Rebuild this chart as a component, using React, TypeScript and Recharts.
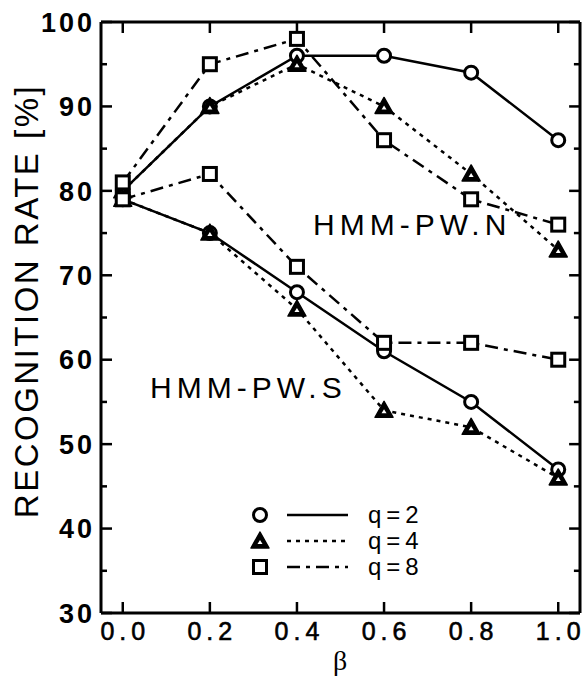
import {
  Customized,
  Line,
  LineChart,
  ReferenceLine,
  XAxis,
  YAxis,
} from "recharts";

// beta values on the x axis
const beta = [0, 0.2, 0.4, 0.6, 0.8, 1.0];

// HMM-PW.N curves
const pwN_q2 = [80, 90, 96, 96, 94, 86];
const pwN_q4 = [80, 90, 95, 90, 82, 73];
const pwN_q8 = [81, 95, 98, 86, 79, 76];

// HMM-PW.S curves
const pwS_q2 = [79, 75, 68, 61, 55, 47];
const pwS_q4 = [79, 75, 66, 54, 52, 46];
const pwS_q8 = [79, 82, 71, 62, 62, 60];

const xTicks = [0, 0.2, 0.4, 0.6, 0.8, 1.0];
const yTicks = [30, 35, 40, 45, 50, 55, 60, 65, 70, 75, 80, 85, 90, 95, 100];
const legendLabels = ["q=2", "q=4", "q=8"];

const X_DOMAIN: [number, number] = [-0.05, 1.05];
const Y_DOMAIN: [number, number] = [30, 100];

const data = beta.map((b, i) => ({
  beta: b,
  nQ2: pwN_q2[i],
  nQ4: pwN_q4[i],
  nQ8: pwN_q8[i],
  sQ2: pwS_q2[i],
  sQ4: pwS_q4[i],
  sQ8: pwS_q8[i],
}));

const FONT = "'Liberation Sans', Arial, Helvetica, sans-serif";
const DOTTED = "4 5";
const DASHDOT = "13 6 4 6";

function CircleMark(cx: number, cy: number, key?: any) {
  return (
    <circle key={key} cx={cx} cy={cy} r={6.5} fill="#fff" stroke="#000" strokeWidth={3} />
  );
}

function TriangleMark(cx: number, cy: number, key?: any) {
  return (
    <g key={key}>
      <polygon
        points={`${cx},${cy - 9} ${cx - 9},${cy + 7} ${cx + 9},${cy + 7}`}
        fill="#000"
        stroke="#000"
        strokeWidth={1.5}
        strokeLinejoin="round"
      />
      <polygon
        points={`${cx},${cy - 1} ${cx - 2.5},${cy + 3} ${cx + 2.5},${cy + 3}`}
        fill="#fff"
      />
    </g>
  );
}

function SquareMark(cx: number, cy: number, key?: any) {
  return (
    <rect key={key} x={cx - 6.5} y={cy - 6.5} width={13} height={13} fill="#fff" stroke="#000" strokeWidth={3} />
  );
}

const circleDot = (p: any) => CircleMark(p.cx, p.cy, `c-${p.dataKey}-${p.index}`);
const triangleDot = (p: any) => TriangleMark(p.cx, p.cy, `t-${p.dataKey}-${p.index}`);
const squareDot = (p: any) => SquareMark(p.cx, p.cy, `s-${p.dataKey}-${p.index}`);

function LeftTick(props: any) {
  const { x, y, payload } = props;
  const major = payload.value % 10 === 0;
  return (
    <g>
      <line x1={x} x2={x + (major ? 11 : 6)} y1={y} y2={y} stroke="#000" strokeWidth={2.5} />
      {major && (
        <text
          x={x - 6}
          y={y}
          dy="0.36em"
          textAnchor="end"
          fontFamily={FONT}
          fontSize={27}
          fontWeight="bold"
          letterSpacing={3}
          fill="#000"
        >
          {payload.value}
        </text>
      )}
    </g>
  );
}

function BottomTick(props: any) {
  const { x, y, payload } = props;
  return (
    <g>
      <line x1={x} x2={x} y1={y} y2={y - 11} stroke="#000" strokeWidth={2.5} />
      <text
        x={x + 2.5}
        y={y + 27}
        textAnchor="middle"
        fontFamily={FONT}
        fontSize={25}
        letterSpacing={5}
        stroke="#000"
        strokeWidth={0.6}
        fill="#000"
      >
        {payload.value.toFixed(1)}
      </text>
    </g>
  );
}

function LegendBox() {
  const marks = [CircleMark, TriangleMark, SquareMark];
  const dashes = [undefined, DOTTED, DASHDOT];
  return (
    <g transform="translate(250, 500)">
      {legendLabels.map((label, i) => {
        const cy = 15 + i * 26;
        return (
          <g key={label}>
            {marks[i](10, cy)}
            <line x1={37} x2={98} y1={cy} y2={cy} stroke="#000" strokeWidth={2.5} strokeDasharray={dashes[i]} />
            <text x={118} y={cy + 8} fontFamily={FONT} fontSize={24} letterSpacing={5} fill="#000">
              {label}
            </text>
          </g>
        );
      })}
    </g>
  );
}

function Annotations() {
  return (
    <g>
      <text
        transform="translate(38, 301) rotate(-90)"
        textAnchor="middle"
        fontFamily={FONT}
        fontSize={33}
        letterSpacing={2.5}
        fill="#000"
      >
        RECOGNITION RATE [%]
      </text>
      <text x={313} y={235} fontFamily={FONT} fontSize={30} letterSpacing={5} fill="#000">
        HMM-PW.N
      </text>
      <text x={150} y={398} fontFamily={FONT} fontSize={30} letterSpacing={5} fill="#000">
        HMM-PW.S
      </text>
      <text x={340} y={670} textAnchor="middle" fontFamily="'Liberation Serif', serif" fontSize={28} fill="#000">
        β
      </text>
      <LegendBox />
    </g>
  );
}

// tick lengths for the top/right frame, in data units (11px / 6px)
const TOP_TICK = 1.3;
const RIGHT_MAJOR = 0.025;
const RIGHT_MINOR = 0.014;

export default function App() {
  const lineCommon = {
    xAxisId: "b",
    yAxisId: "l",
    type: "linear" as const,
    stroke: "#000",
    strokeWidth: 2.5,
    isAnimationActive: false,
  };
  const frame = { xAxisId: "b", yAxisId: "l", stroke: "#000", ifOverflow: "visible" as const };
  return (
    <div style={{ position: "absolute", left: 0, top: 0, background: "#fff" }}>
      <LineChart width={588} height={679} data={data} margin={{ top: 22, right: 8, bottom: 0, left: 0 }}>
        <XAxis
          xAxisId="b"
          dataKey="beta"
          type="number"
          domain={X_DOMAIN}
          ticks={xTicks}
          interval={0}
          height={66}
          tickSize={0}
          tickMargin={0}
          tickLine={false}
          tick={<BottomTick />}
          axisLine={{ stroke: "#000", strokeWidth: 3 }}
        />
        <YAxis
          yAxisId="l"
          type="number"
          domain={Y_DOMAIN}
          ticks={yTicks}
          interval={0}
          width={101}
          tickSize={0}
          tickMargin={0}
          tickLine={false}
          tick={<LeftTick />}
          axisLine={{ stroke: "#000", strokeWidth: 3 }}
        />
        {/* top and right frame with inward ticks */}
        <ReferenceLine {...frame} y={Y_DOMAIN[1]} strokeWidth={3} />
        <ReferenceLine {...frame} x={X_DOMAIN[1]} strokeWidth={3} />
        {xTicks.map((t) => (
          <ReferenceLine
            key={`tt-${t}`}
            {...frame}
            strokeWidth={2.5}
            segment={[
              { x: t, y: Y_DOMAIN[1] },
              { x: t, y: Y_DOMAIN[1] - TOP_TICK },
            ]}
          />
        ))}
        {yTicks.map((v) => (
          <ReferenceLine
            key={`rt-${v}`}
            {...frame}
            strokeWidth={2.5}
            segment={[
              { x: X_DOMAIN[1], y: v },
              { x: X_DOMAIN[1] - (v % 10 === 0 ? RIGHT_MAJOR : RIGHT_MINOR), y: v },
            ]}
          />
        ))}
        <Line {...lineCommon} dataKey="nQ2" dot={circleDot} />
        <Line {...lineCommon} dataKey="sQ2" dot={circleDot} />
        <Line {...lineCommon} dataKey="nQ4" strokeDasharray={DOTTED} dot={triangleDot} />
        <Line {...lineCommon} dataKey="sQ4" strokeDasharray={DOTTED} dot={triangleDot} />
        <Line {...lineCommon} dataKey="nQ8" strokeDasharray={DASHDOT} dot={squareDot} />
        <Line {...lineCommon} dataKey="sQ8" strokeDasharray={DASHDOT} dot={squareDot} />
        <Customized component={Annotations} />
      </LineChart>
    </div>
  );
}
